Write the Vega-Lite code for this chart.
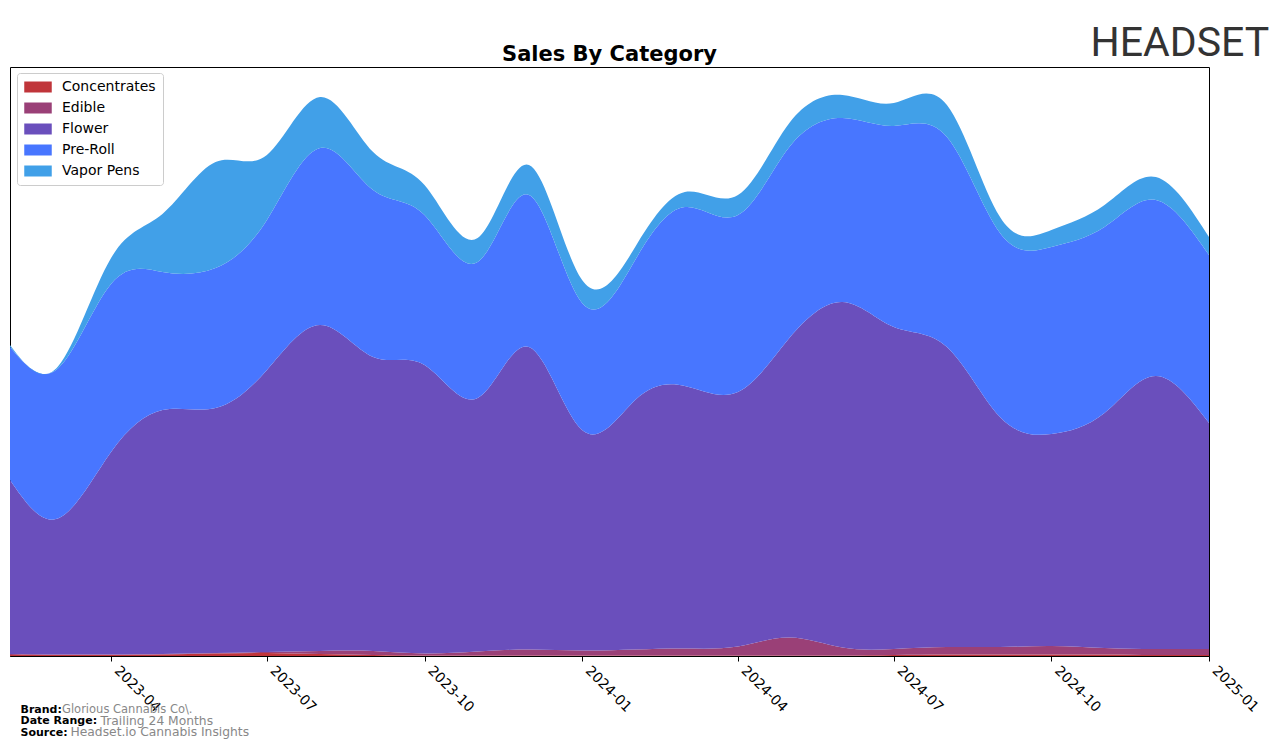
{
  "$schema": "https://vega.github.io/schema/vega-lite/v6.json",
  "width": 1199,
  "height": 589,
  "autosize": {"type": "none"},
  "padding": {"left": 10, "top": 67, "right": 67, "bottom": 91},
  "background": "white",
  "config": {
    "font": "DejaVu Sans",
    "view": {"stroke": "black", "strokeWidth": 1}
  },
  "data": {
    "values": [
      {"date": "2023-02-01", "cat": "Concentrates", "v": 1}, {"date": "2023-02-01", "cat": "Edible", "v": 1}, {"date": "2023-02-01", "cat": "Flower", "v": 174}, {"date": "2023-02-01", "cat": "Pre-Roll", "v": 133}, {"date": "2023-02-01", "cat": "Vapor Pens", "v": 2},
      {"date": "2023-03-01", "cat": "Concentrates", "v": 1}, {"date": "2023-03-01", "cat": "Edible", "v": 0.5}, {"date": "2023-03-01", "cat": "Flower", "v": 136}, {"date": "2023-03-01", "cat": "Pre-Roll", "v": 150}, {"date": "2023-03-01", "cat": "Vapor Pens", "v": 2},
      {"date": "2023-04-01", "cat": "Concentrates", "v": 1}, {"date": "2023-04-01", "cat": "Edible", "v": 0.5}, {"date": "2023-04-01", "cat": "Flower", "v": 202.5}, {"date": "2023-04-01", "cat": "Pre-Roll", "v": 168}, {"date": "2023-04-01", "cat": "Vapor Pens", "v": 26},
      {"date": "2023-05-01", "cat": "Concentrates", "v": 1.5}, {"date": "2023-05-01", "cat": "Edible", "v": 0.5}, {"date": "2023-05-01", "cat": "Flower", "v": 244}, {"date": "2023-05-01", "cat": "Pre-Roll", "v": 138}, {"date": "2023-05-01", "cat": "Vapor Pens", "v": 58},
      {"date": "2023-06-01", "cat": "Concentrates", "v": 2.5}, {"date": "2023-06-01", "cat": "Edible", "v": 0.5}, {"date": "2023-06-01", "cat": "Flower", "v": 245}, {"date": "2023-06-01", "cat": "Pre-Roll", "v": 140}, {"date": "2023-06-01", "cat": "Vapor Pens", "v": 106},
      {"date": "2023-07-01", "cat": "Concentrates", "v": 3}, {"date": "2023-07-01", "cat": "Edible", "v": 1}, {"date": "2023-07-01", "cat": "Flower", "v": 282}, {"date": "2023-07-01", "cat": "Pre-Roll", "v": 150}, {"date": "2023-07-01", "cat": "Vapor Pens", "v": 65},
      {"date": "2023-08-01", "cat": "Concentrates", "v": 2}, {"date": "2023-08-01", "cat": "Edible", "v": 3}, {"date": "2023-08-01", "cat": "Flower", "v": 326}, {"date": "2023-08-01", "cat": "Pre-Roll", "v": 177}, {"date": "2023-08-01", "cat": "Vapor Pens", "v": 51},
      {"date": "2023-09-01", "cat": "Concentrates", "v": 1}, {"date": "2023-09-01", "cat": "Edible", "v": 4}, {"date": "2023-09-01", "cat": "Flower", "v": 294}, {"date": "2023-09-01", "cat": "Pre-Roll", "v": 167}, {"date": "2023-09-01", "cat": "Vapor Pens", "v": 38},
      {"date": "2023-10-01", "cat": "Concentrates", "v": 0.5}, {"date": "2023-10-01", "cat": "Edible", "v": 2}, {"date": "2023-10-01", "cat": "Flower", "v": 288.5}, {"date": "2023-10-01", "cat": "Pre-Roll", "v": 150}, {"date": "2023-10-01", "cat": "Vapor Pens", "v": 30},
      {"date": "2023-11-01", "cat": "Concentrates", "v": 0.5}, {"date": "2023-11-01", "cat": "Edible", "v": 4}, {"date": "2023-11-01", "cat": "Flower", "v": 253.5}, {"date": "2023-11-01", "cat": "Pre-Roll", "v": 136}, {"date": "2023-11-01", "cat": "Vapor Pens", "v": 24},
      {"date": "2023-12-01", "cat": "Concentrates", "v": 0.5}, {"date": "2023-12-01", "cat": "Edible", "v": 6}, {"date": "2023-12-01", "cat": "Flower", "v": 302.5}, {"date": "2023-12-01", "cat": "Pre-Roll", "v": 152}, {"date": "2023-12-01", "cat": "Vapor Pens", "v": 30},
      {"date": "2024-01-01", "cat": "Concentrates", "v": 0.5}, {"date": "2024-01-01", "cat": "Edible", "v": 5}, {"date": "2024-01-01", "cat": "Flower", "v": 220.5}, {"date": "2024-01-01", "cat": "Pre-Roll", "v": 127}, {"date": "2024-01-01", "cat": "Vapor Pens", "v": 23},
      {"date": "2024-02-01", "cat": "Concentrates", "v": 0.5}, {"date": "2024-02-01", "cat": "Edible", "v": 6}, {"date": "2024-02-01", "cat": "Flower", "v": 249.5}, {"date": "2024-02-01", "cat": "Pre-Roll", "v": 140}, {"date": "2024-02-01", "cat": "Vapor Pens", "v": 13},
      {"date": "2024-03-01", "cat": "Concentrates", "v": 0.5}, {"date": "2024-03-01", "cat": "Edible", "v": 7}, {"date": "2024-03-01", "cat": "Flower", "v": 262.5}, {"date": "2024-03-01", "cat": "Pre-Roll", "v": 179}, {"date": "2024-03-01", "cat": "Vapor Pens", "v": 15},
      {"date": "2024-04-01", "cat": "Concentrates", "v": 0.5}, {"date": "2024-04-01", "cat": "Edible", "v": 9}, {"date": "2024-04-01", "cat": "Flower", "v": 254.5}, {"date": "2024-04-01", "cat": "Pre-Roll", "v": 177}, {"date": "2024-04-01", "cat": "Vapor Pens", "v": 20},
      {"date": "2024-05-01", "cat": "Concentrates", "v": 0.5}, {"date": "2024-05-01", "cat": "Edible", "v": 18}, {"date": "2024-05-01", "cat": "Flower", "v": 299.5}, {"date": "2024-05-01", "cat": "Pre-Roll", "v": 191}, {"date": "2024-05-01", "cat": "Vapor Pens", "v": 24},
      {"date": "2024-06-01", "cat": "Concentrates", "v": 0.5}, {"date": "2024-06-01", "cat": "Edible", "v": 8}, {"date": "2024-06-01", "cat": "Flower", "v": 345.5}, {"date": "2024-06-01", "cat": "Pre-Roll", "v": 184}, {"date": "2024-06-01", "cat": "Vapor Pens", "v": 23},
      {"date": "2024-07-01", "cat": "Concentrates", "v": 1}, {"date": "2024-07-01", "cat": "Edible", "v": 6}, {"date": "2024-07-01", "cat": "Flower", "v": 322}, {"date": "2024-07-01", "cat": "Pre-Roll", "v": 201}, {"date": "2024-07-01", "cat": "Vapor Pens", "v": 23},
      {"date": "2024-08-01", "cat": "Concentrates", "v": 1.5}, {"date": "2024-08-01", "cat": "Edible", "v": 7.5}, {"date": "2024-08-01", "cat": "Flower", "v": 300}, {"date": "2024-08-01", "cat": "Pre-Roll", "v": 210}, {"date": "2024-08-01", "cat": "Vapor Pens", "v": 32},
      {"date": "2024-09-01", "cat": "Concentrates", "v": 1.5}, {"date": "2024-09-01", "cat": "Edible", "v": 7.5}, {"date": "2024-09-01", "cat": "Flower", "v": 230}, {"date": "2024-09-01", "cat": "Pre-Roll", "v": 184}, {"date": "2024-09-01", "cat": "Vapor Pens", "v": 16},
      {"date": "2024-10-01", "cat": "Concentrates", "v": 1.5}, {"date": "2024-10-01", "cat": "Edible", "v": 8.5}, {"date": "2024-10-01", "cat": "Flower", "v": 212}, {"date": "2024-10-01", "cat": "Pre-Roll", "v": 187}, {"date": "2024-10-01", "cat": "Vapor Pens", "v": 17},
      {"date": "2024-11-01", "cat": "Concentrates", "v": 1.5}, {"date": "2024-11-01", "cat": "Edible", "v": 6.5}, {"date": "2024-11-01", "cat": "Flower", "v": 235}, {"date": "2024-11-01", "cat": "Pre-Roll", "v": 186}, {"date": "2024-11-01", "cat": "Vapor Pens", "v": 22},
      {"date": "2024-12-01", "cat": "Concentrates", "v": 1}, {"date": "2024-12-01", "cat": "Edible", "v": 6}, {"date": "2024-12-01", "cat": "Flower", "v": 273}, {"date": "2024-12-01", "cat": "Pre-Roll", "v": 176}, {"date": "2024-12-01", "cat": "Vapor Pens", "v": 23},
      {"date": "2025-01-01", "cat": "Concentrates", "v": 1}, {"date": "2025-01-01", "cat": "Edible", "v": 6}, {"date": "2025-01-01", "cat": "Flower", "v": 226}, {"date": "2025-01-01", "cat": "Pre-Roll", "v": 168}, {"date": "2025-01-01", "cat": "Vapor Pens", "v": 18}
    ]
  },
  "layer": [
    {
      "mark": {"type": "area", "interpolate": "natural", "opacity": 1},
      "encoding": {
        "x": {
          "field": "date",
          "type": "temporal",
          "scale": {"type": "utc", "domain": [{"year": 2023, "month": 2, "date": 1, "utc": true}, {"year": 2025, "month": 1, "date": 1, "utc": true}], "nice": false},
          "axis": {
            "orient": "bottom",
            "values": [
              {"year": 2023, "month": 4, "date": 1, "utc": true},
              {"year": 2023, "month": 7, "date": 1, "utc": true},
              {"year": 2023, "month": 10, "date": 1, "utc": true},
              {"year": 2024, "month": 1, "date": 1, "utc": true},
              {"year": 2024, "month": 4, "date": 1, "utc": true},
              {"year": 2024, "month": 7, "date": 1, "utc": true},
              {"year": 2024, "month": 10, "date": 1, "utc": true},
              {"year": 2025, "month": 1, "date": 1, "utc": true}
            ],
            "format": "%Y-%m",
            "labelAngle": 45,
            "labelAlign": "left",
            "labelBaseline": "bottom",
            "labelFontSize": 14,
            "labelColor": "black",
            "labelPadding": 12,
            "labelFlush": false,
            "labelOverlap": false,
            "tickColor": "black",
            "tickSize": 5,
            "domainColor": "black",
            "grid": false,
            "title": ["Brand:", "Date Range:", "Source:"],
            "titleFont": "DejaVu Sans",
            "titleFontSize": 11,
            "titleFontWeight": "bold",
            "titleColor": "black",
            "titleAlign": "left",
            "titleBaseline": "alphabetic",
            "titleAnchor": "start",
            "titleLineHeight": 11.2,
            "titleX": 10,
            "titleY": 56.7
          }
        },
        "y": {
          "field": "v",
          "type": "quantitative",
          "stack": "zero",
          "scale": {"domain": [0, 589], "nice": false, "zero": true},
          "axis": {
            "orient": "left",
            "domain": false,
            "ticks": false,
            "labels": false,
            "grid": false,
            "title": "Glorious Cannabis Co\\.",
            "titleAngle": 0,
            "titleFont": "DejaVu Sans",
            "titleFontSize": 11.5,
            "titleFontWeight": "normal",
            "titleColor": "#888888",
            "titleAlign": "left",
            "titleBaseline": "alphabetic",
            "titleX": 51.5,
            "titleY": 645.7
          }
        },
        "color": {
          "field": "cat",
          "type": "nominal",
          "scale": {
            "domain": ["Concentrates", "Edible", "Flower", "Pre-Roll", "Vapor Pens"],
            "range": ["#C0353A", "#9A4077", "#6A4FBC", "#4876FF", "#41A0E8"]
          },
          "legend": {
            "orient": "none",
            "legendX": 7,
            "legendY": 6,
            "title": null,
            "padding": 7,
            "symbolType": "M-2.5,-1H2.5V1H-2.5Z",
            "symbolSize": 121,
            "symbolOffset": 7,
            "symbolStrokeWidth": 0,
            "symbolOpacity": 1,
            "labelOffset": 17,
            "labelFontSize": 14,
            "labelColor": "black",
            "rowPadding": 7,
            "fillColor": "white",
            "strokeColor": "#cccccc",
            "cornerRadius": 3
          }
        },
        "order": {"field": "cat", "type": "nominal", "sort": "ascending"}
      }
    },
    {
      "mark": {"type": "point", "opacity": 0, "size": 0},
      "encoding": {
        "x": {
          "field": "date",
          "type": "temporal",
          "scale": {"type": "utc", "domain": [{"year": 2023, "month": 2, "date": 1, "utc": true}, {"year": 2025, "month": 1, "date": 1, "utc": true}], "nice": false},
          "axis": {
            "orient": "top",
            "domain": false,
            "ticks": false,
            "labels": false,
            "grid": false,
            "title": "Sales By Category",
            "titleFont": "DejaVu Sans",
            "titleFontSize": 21,
            "titleFontWeight": "bold",
            "titleColor": "black",
            "titleAlign": "center",
            "titleBaseline": "alphabetic",
            "titleX": 599,
            "titleY": -7
          }
        },
        "y": {
          "field": "v",
          "type": "quantitative",
          "scale": {"domain": [0, 589], "nice": false},
          "axis": {
            "orient": "right",
            "domain": false,
            "ticks": false,
            "labels": false,
            "grid": false,
            "title": "Trailing 24 Months",
            "titleAngle": 0,
            "titleFont": "DejaVu Sans",
            "titleFontSize": 12.3,
            "titleFontWeight": "normal",
            "titleColor": "#888888",
            "titleAlign": "left",
            "titleBaseline": "alphabetic",
            "titleX": -1109,
            "titleY": 657
          }
        }
      }
    },
    {
      "mark": {"type": "point", "opacity": 0, "size": 0},
      "encoding": {
        "x": {
          "field": "date",
          "type": "temporal",
          "scale": {"type": "utc", "domain": [{"year": 2023, "month": 2, "date": 1, "utc": true}, {"year": 2025, "month": 1, "date": 1, "utc": true}], "nice": false},
          "axis": {
            "orient": "bottom",
            "domain": false,
            "ticks": false,
            "labels": false,
            "grid": false,
            "title": "Headset.io Cannabis Insights",
            "titleFont": "DejaVu Sans",
            "titleFontSize": 12.3,
            "titleFontWeight": "normal",
            "titleColor": "#888888",
            "titleAlign": "left",
            "titleBaseline": "alphabetic",
            "titleX": 60,
            "titleY": 79
          }
        },
        "y": {
          "field": "v",
          "type": "quantitative",
          "scale": {"domain": [0, 589], "nice": false},
          "axis": {
            "orient": "left",
            "domain": false,
            "ticks": false,
            "labels": false,
            "grid": false,
            "title": "HEADSET",
            "titleAngle": 0,
            "titleFont": "Roboto",
            "titleFontSize": 41,
            "titleFontWeight": "normal",
            "titleColor": "#333333",
            "titleAlign": "left",
            "titleBaseline": "alphabetic",
            "titleX": 1080,
            "titleY": -12
          }
        }
      }
    }
  ],
  "resolve": {"axis": {"x": "independent", "y": "independent"}}
}
